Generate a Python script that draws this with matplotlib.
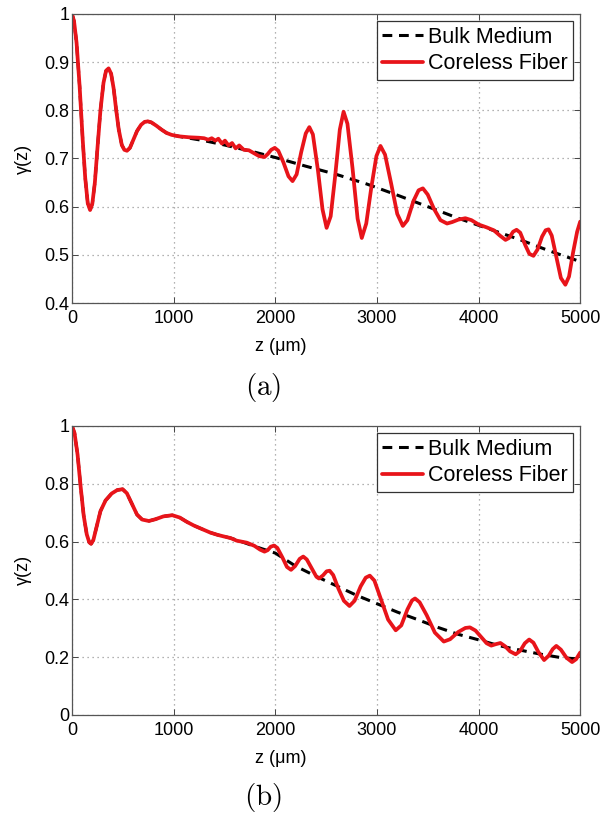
import numpy as np
import matplotlib.pyplot as plt

plt.rcParams['font.family'] = ['Liberation Sans', 'DejaVu Sans']
plt.rcParams['mathtext.fontset'] = 'cm'

# ---- panel (a) ----
z_fiber_a = [0, 20, 45, 75, 105, 130, 155, 178, 200, 225, 250, 280, 310, 335, 360, 385, 410,
             435, 460, 490, 515, 541, 570, 600, 640, 680, 715, 746, 780, 830, 880, 930, 980,
             1050, 1150, 1250, 1300, 1340, 1375, 1410, 1440, 1475, 1505, 1540, 1575, 1610,
             1645, 1690, 1740, 1790, 1840, 1894, 1925, 1960, 1995, 2030, 2080, 2130, 2170,
             2210, 2255, 2300, 2335, 2370, 2420, 2465, 2505, 2545, 2590, 2635, 2672, 2710,
             2760, 2810, 2851, 2895, 2945, 2995, 3035, 3080, 3140, 3200, 3255, 3300, 3360,
             3410, 3452, 3500, 3560, 3625, 3690, 3740, 3800, 3870, 3930, 4000, 4080, 4150,
             4210, 4265, 4300, 4340, 4374, 4410, 4460, 4500, 4540, 4580, 4625, 4660, 4689,
             4720, 4765, 4810, 4854, 4890, 4930, 4970, 5000]
g_fiber_a = [1.000, 0.985, 0.94, 0.85, 0.74, 0.66, 0.607, 0.593, 0.606, 0.65, 0.72, 0.80,
             0.857, 0.882, 0.887, 0.876, 0.845, 0.80, 0.76, 0.728, 0.718, 0.716, 0.722, 0.737,
             0.757, 0.770, 0.776, 0.777, 0.775, 0.768, 0.760, 0.753, 0.749, 0.746, 0.744,
             0.743, 0.742, 0.739, 0.742, 0.737, 0.741, 0.731, 0.737, 0.727, 0.732, 0.721,
             0.727, 0.718, 0.717, 0.711, 0.705, 0.703, 0.709, 0.718, 0.722, 0.716, 0.692,
             0.663, 0.653, 0.667, 0.713, 0.752, 0.765, 0.750, 0.675, 0.594, 0.556, 0.580,
             0.665, 0.760, 0.797, 0.772, 0.680, 0.575, 0.535, 0.565, 0.640, 0.705, 0.726,
             0.708, 0.648, 0.585, 0.560, 0.572, 0.612, 0.634, 0.638, 0.625, 0.596, 0.572,
             0.565, 0.568, 0.573, 0.576, 0.572, 0.563, 0.557, 0.551, 0.540, 0.531, 0.535,
             0.548, 0.552, 0.546, 0.520, 0.502, 0.498, 0.511, 0.538, 0.551, 0.553, 0.540,
             0.496, 0.452, 0.438, 0.455, 0.505, 0.548, 0.569]

z_bulk_a = [0, 20, 45, 75, 105, 130, 155, 178, 200, 225, 250, 280, 310, 335, 360, 385, 410,
            435, 460, 490, 515, 541, 570, 600, 640, 680, 715, 746, 780, 830, 880, 930, 980,
            1100, 1300, 1500, 1700, 1800, 2000, 2300, 2600, 2900, 3200, 3500, 3800, 4100,
            4400, 4700, 5000]
g_bulk_a = [1.000, 0.985, 0.94, 0.85, 0.74, 0.66, 0.607, 0.593, 0.606, 0.65, 0.72, 0.80,
            0.857, 0.882, 0.887, 0.876, 0.845, 0.80, 0.76, 0.728, 0.718, 0.716, 0.722, 0.737,
            0.757, 0.770, 0.776, 0.777, 0.775, 0.768, 0.760, 0.753, 0.749, 0.744, 0.737,
            0.728, 0.718, 0.713, 0.702, 0.684, 0.667, 0.647, 0.624, 0.600, 0.576, 0.554,
            0.532, 0.508, 0.486]

# ---- panel (b) ----
z_fiber_b = [0, 25, 55, 85, 115, 145, 170, 188, 210, 240, 280, 330, 390, 445, 498, 540, 590,
             640, 690, 756, 820, 900, 987, 1060, 1130, 1201, 1280, 1360, 1432, 1500, 1560,
             1620, 1663, 1720, 1795, 1850, 1894, 1925, 1955, 1988, 2020, 2070, 2115, 2155,
             2195, 2240, 2275, 2310, 2370, 2405, 2430, 2470, 2505, 2535, 2570, 2620, 2675,
             2730, 2780, 2840, 2890, 2930, 2975, 3040, 3110, 3185, 3240, 3300, 3345, 3375,
             3420, 3490, 3570, 3658, 3720, 3800, 3870, 3915, 3970, 4030, 4080, 4125, 4170,
             4215, 4260, 4310, 4365, 4410, 4455, 4498, 4540, 4590, 4645, 4690, 4730, 4765,
             4810, 4865, 4920, 4960, 5000]
g_fiber_b = [1.000, 0.975, 0.90, 0.79, 0.69, 0.625, 0.597, 0.592, 0.605, 0.648, 0.705, 0.742,
             0.766, 0.778, 0.781, 0.767, 0.730, 0.693, 0.676, 0.671, 0.677, 0.687, 0.691,
             0.683, 0.668, 0.655, 0.643, 0.631, 0.623, 0.617, 0.612, 0.603, 0.600, 0.596,
             0.585, 0.572, 0.565, 0.570, 0.582, 0.586, 0.578, 0.545, 0.512, 0.502, 0.515,
             0.540, 0.548, 0.538, 0.500, 0.478, 0.472, 0.483, 0.497, 0.499, 0.484, 0.438,
             0.395, 0.377, 0.395, 0.445, 0.475, 0.482, 0.465, 0.400, 0.330, 0.293, 0.310,
             0.365, 0.396, 0.403, 0.390, 0.345, 0.285, 0.254, 0.262, 0.287, 0.301, 0.303,
             0.292, 0.268, 0.248, 0.240, 0.245, 0.249, 0.238, 0.220, 0.210, 0.222, 0.248,
             0.261, 0.250, 0.217, 0.190, 0.205, 0.228, 0.239, 0.226, 0.198, 0.183, 0.193,
             0.216]

z_bulk_b = [0, 25, 55, 85, 115, 145, 170, 188, 210, 240, 280, 330, 390, 445, 498, 540, 590,
            640, 690, 756, 820, 900, 987, 1060, 1130, 1201, 1280, 1360, 1432, 1500, 1560,
            1663, 1800, 2000, 2200, 2400, 2600, 2800, 3000, 3200, 3400, 3600, 3800, 4000,
            4200, 4400, 4600, 4800, 5000]
g_bulk_b = [1.000, 0.975, 0.90, 0.79, 0.69, 0.625, 0.597, 0.592, 0.605, 0.648, 0.705, 0.742,
            0.766, 0.778, 0.781, 0.767, 0.730, 0.693, 0.676, 0.671, 0.677, 0.687, 0.691,
            0.683, 0.668, 0.655, 0.643, 0.631, 0.623, 0.617, 0.612, 0.600, 0.583, 0.560,
            0.515, 0.480, 0.447, 0.414, 0.385, 0.356, 0.330, 0.303, 0.279, 0.260, 0.240,
            0.225, 0.211, 0.199, 0.193]

xticks = [0, 1000, 2000, 3000, 4000, 5000]
yticks_a = [0.4, 0.5, 0.6, 0.7, 0.8, 0.9, 1.0]
yticks_b = [0, 0.2, 0.4, 0.6, 0.8, 1.0]
ytick_labels_a = ['0.4', '0.5', '0.6', '0.7', '0.8', '0.9', '1']
ytick_labels_b = ['0', '0.2', '0.4', '0.6', '0.8', '1']

fig = plt.figure(figsize=(6.05, 8.19), dpi=100)
ax_a = fig.add_axes([0.119, 0.630, 0.840, 0.353])
ax_b = fig.add_axes([0.119, 0.127, 0.840, 0.353])

panels = [
    (ax_a, z_bulk_a, g_bulk_a, z_fiber_a, g_fiber_a, (0.4, 1.0), yticks_a, ytick_labels_a, '(a)', 387),
    (ax_b, z_bulk_b, g_bulk_b, z_fiber_b, g_fiber_b, (0.0, 1.0), yticks_b, ytick_labels_b, '(b)', 797),
]

for ax, zb, gb, zf, gf, ylim, yt, ytl, tag, tag_y in panels:
    ax.plot(zb, gb, color='black', linestyle=(0, (3.2, 2.2)), linewidth=2.2,
            label='Bulk Medium')
    ax.plot(zf, gf, color='#e8141a', linewidth=2.7, solid_joinstyle='round',
            solid_capstyle='round', label='Coreless Fiber')
    ax.set_xlim(0, 5000)
    ax.set_ylim(*ylim)
    ax.set_xticks(xticks)
    ax.set_xticklabels([str(t) for t in xticks])
    ax.set_yticks(yt)
    ax.set_yticklabels(ytl)
    ax.grid(True, linestyle=(0, (1, 3)), color='#999999', linewidth=0.9)
    ax.tick_params(direction='in', top=True, right=True, length=4, width=0.7,
                   labelsize=13, color='#444444')
    ax.tick_params(axis='x', pad=5)
    ax.tick_params(axis='y', pad=2)
    for sp in ax.spines.values():
        sp.set_color('#555555')
        sp.set_linewidth(0.9)
    ax.set_xlabel('z (μm)', fontsize=13)
    ax.xaxis.set_label_coords(0.41, -0.12)
    ax.set_ylabel('γ(z)', fontsize=13, labelpad=9)
    leg = ax.legend(loc='upper right', fontsize=15.5, fancybox=False, framealpha=1,
                    edgecolor='#333333', handlelength=1.9, handletextpad=0.2,
                    borderpad=0.25, labelspacing=0.25, borderaxespad=0.35)
    leg.get_frame().set_linewidth(0.9)
    fig.text(263 / 605, 1 - tag_y / 819, r'$\mathrm{' + tag + '}$', fontsize=21,
             ha='center', va='center')

fig.savefig('out.png', dpi=100)
